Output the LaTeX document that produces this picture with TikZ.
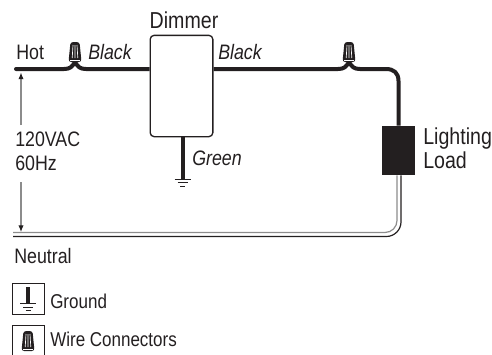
\documentclass[tikz,border=0pt]{standalone}
\usepackage{fontspec}
\setmainfont[FakeStretch=0.85]{Liberation Sans}
\usetikzlibrary{arrows,arrows.meta,calc}
\tikzset{>=latex}
\definecolor{wireGrey}{HTML}{8c8c8c}
\definecolor{inkBlack}{HTML}{231f20}
\tikzstyle{label} = [inner sep=0pt,font=\fontsize{15.7}{18}\selectfont,text=inkBlack]
\tikzstyle{biglabel} = [label,font=\fontsize{17.3}{18}\selectfont]
\tikzstyle{colour} = [label,font=\fontsize{15.7}{18}\selectfont\itshape]
\tikzstyle{keylabel} = [label,font=\fontsize{15}{18}\selectfont]
\tikzstyle{wire} = [line width=3pt,line join=round,inkBlack]
\tikzstyle{legend} = [draw=inkBlack,line width=0.7pt,minimum size=23.5pt,inner sep=0pt]
\tikzset{voltarrow/.style={wireGrey,line width=0.8pt,-{Latex[inkBlack,length=5pt,width=4pt]}}}
\newcommand{\nutshape}[2]{
	\fill[inkBlack,rounded corners=2pt] (#1-6.5,#2+10) -- (#1-4.5,#2-10) -- (#1+4.5,#2-10) -- (#1+6.5,#2+10) -- cycle;
	\draw[white,line width=0.5pt] (#1-2,#2-7) -- (#1-2.8,#2+6) (#1,#2-7) -- (#1,#2+6) (#1+2,#2-7) -- (#1+2.8,#2+6);
	\draw[white,line width=0.5pt] (#1-5,#2+8) -- (#1+5,#2+8);
}
\newcommand{\gndshape}[2]{
	\draw[inkBlack,line width=0.7pt] (#1-8,#2) -- (#1+8,#2) (#1-5,#2+3.5) -- (#1+5,#2+3.5) (#1-2.5,#2+7) -- (#1+2.5,#2+7);
}
\begin{document}
\begin{tikzpicture}[x=0.75pt,y=-0.75pt]
	\useasboundingbox (0,0) rectangle (492,354);

	\coordinate (hotEnd) at (16,69);
	\coordinate (nutA) at (75,62);
	\coordinate (nutB) at (349,62);
	\coordinate (greyEnd) at (13,232.5);
	\coordinate (blackEnd) at (13,236.5);
	\coordinate (gndEnd) at (182.5,178.5);
	\coordinate (keyGndTop) at (28,287);
	\coordinate (keyGndEnd) at (28,303);

	\node[draw=inkBlack,line width=1pt,rounded corners=3pt,minimum width=47pt,minimum height=76pt,inner sep=0pt] (dimmer) at (181.5,86) {};
	\node[fill=inkBlack,minimum width=24.75pt,minimum height=36.75pt,inner sep=0pt] (load) at (398.5,150.5) {};

	% hot side
	\draw[wire,line cap=round] (hotEnd) -- (64,69) .. controls (70,69) and (72,67) .. (nutA);
	\draw[wire] (nutA) .. controls (78,67) and (80,69) .. (86,69) -- (dimmer.west |- hotEnd);
	\draw[wire] (dimmer.east |- hotEnd) -- (338,69) .. controls (344,69) and (346,67) .. (nutB);
	\draw[wire] (nutB) .. controls (352,67) and (354,69) .. (360,69) -- (386,69) .. controls (394,69) and (398.5,73) .. (398.5,81) -- (load.north);
	\draw[wire] (dimmer.south -| gndEnd) -- (gndEnd);

	% neutral side
	\draw[wireGrey,line width=0.9pt,rounded corners=9pt] (greyEnd) -- (397,232.5) -- ([xshift=-1.1pt]load.south);
	\draw[inkBlack,line width=0.9pt,rounded corners=11pt] (blackEnd) -- (401,236.5) -- ([xshift=1.9pt]load.south);

	\gndshape{182.5}{179}
	\nutshape{75}{52}
	\nutshape{349}{52}

	% voltage arrow
	\draw[voltarrow] (21,125) -- (21,72.5);
	\draw[voltarrow] (21,182) -- (21,232);

	\node[biglabel] (dimmerText) at (184,20) {Dimmer};
	\node[label,anchor=west] (hotText) at (16,52) {Hot};
	\node[colour,anchor=west] (blackA) at (88,52) {Black};
	\node[colour,anchor=west] (blackB) at (218,52) {Black};
	\node[label,anchor=north west,align=left] (volts) at (15,132) {120VAC\\60Hz};
	\node[colour,anchor=west] (greenText) at (192,158) {Green};
	\node[biglabel,anchor=west,align=left] (loadText) at (423,148) {Lighting\\Load};
	\node[label,anchor=west] (neutralText) at (14,256) {Neutral};

	% legend
	\node[legend] (gndBox) at (28.5,299) {};
	\draw[inkBlack,line width=2.6pt] (keyGndTop) -- (keyGndEnd);
	\gndshape{28}{303.5}
	\node[keylabel,anchor=west] (gndText) at (50,301) {Ground};
	\node[legend] (nutBox) at (28.5,341.5) {};
	\nutshape{28}{341}
	\node[keylabel,anchor=west] (nutText) at (50,339) {Wire Connectors};
\end{tikzpicture}
\end{document}
